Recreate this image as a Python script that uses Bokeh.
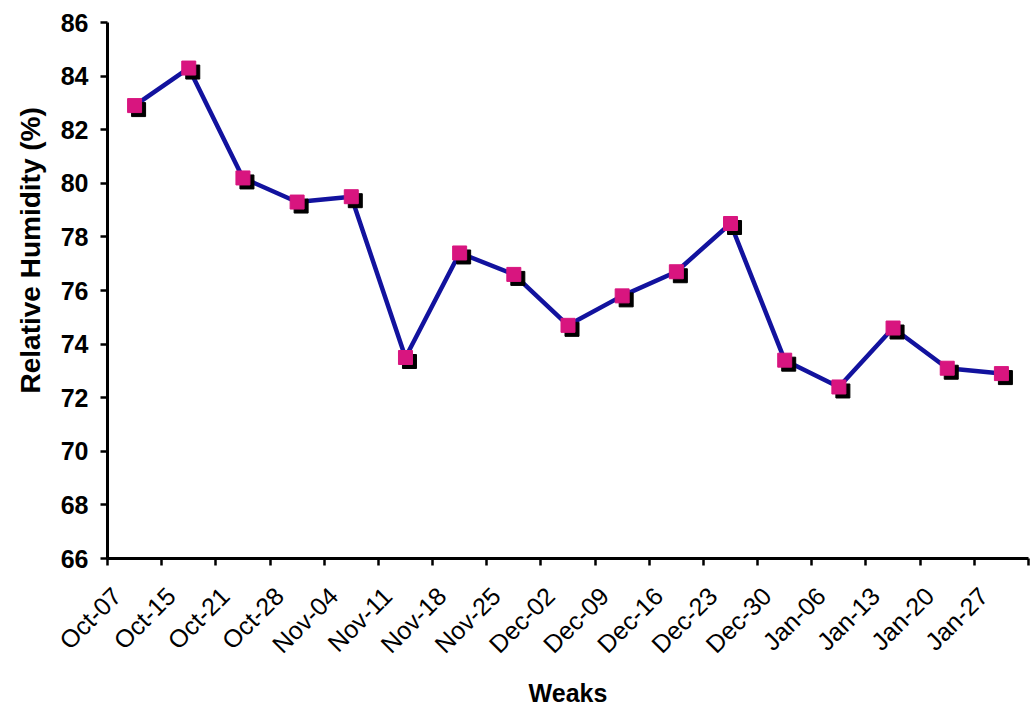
from math import pi

from bokeh.embed import file_html
from bokeh.models import ColumnDataSource, FixedTicker, Range1d, Title
from bokeh.plotting import figure
from bokeh.resources import INLINE
from bokeh.transform import dodge

# Weekly mean relative humidity
weeks = ["Oct-07", "Oct-15", "Oct-21", "Oct-28", "Nov-04", "Nov-11", "Nov-18",
         "Nov-25", "Dec-02", "Dec-09", "Dec-16", "Dec-23", "Dec-30", "Jan-06",
         "Jan-13", "Jan-20", "Jan-27"]
humidity = [82.9, 84.3, 80.2, 79.3, 79.5, 73.5, 77.4, 76.6, 74.7, 75.8, 76.7,
            78.5, 73.4, 72.4, 74.6, 73.1, 72.9]
y_ticks = [66, 68, 70, 72, 74, 76, 78, 80, 82, 84, 86]

FONT = "Liberation Sans"
LINE_BLUE = "#12129E"
MARKER_PINK = "#D8157F"

n = len(weeks)
centers = [i + 0.5 for i in range(n)]
# rotated labels hang from just right of each category's left boundary
label_pos = [i + 0.17 for i in range(n)]
source = ColumnDataSource(data=dict(x=centers, y=humidity))

p = figure(width=1032, height=710, output_backend="svg", toolbar_location=None,
           x_range=Range1d(0, n), y_range=Range1d(y_ticks[0], y_ticks[-1]),
           min_border_left=107, min_border_right=4, min_border_top=22,
           min_border_bottom=152)
p.outline_line_color = None
p.xgrid.visible = False
p.ygrid.visible = False
p.background_fill_color = "white"
p.border_fill_color = "white"

# series line, then drop-shadowed square markers
p.line("x", "y", source=source, line_color=LINE_BLUE, line_width=4.5)
frame_w, frame_h = 921, 536
p.scatter(x=dodge("x", 4 * n / frame_w, range=p.x_range),
          y=dodge("y", -4 * (y_ticks[-1] - y_ticks[0]) / frame_h, range=p.y_range),
          source=source, marker="square", size=14, fill_color="black",
          line_color="black")
p.scatter("x", "y", source=source, marker="square", size=14,
          fill_color=MARKER_PINK, line_color=MARKER_PINK)

# x axis: tick marks on category boundaries, slanted week labels
xa = p.xaxis[0]
xa.ticker = FixedTicker(ticks=label_pos, minor_ticks=list(range(n + 1)))
xa.major_label_overrides = {c: w for c, w in zip(label_pos, weeks)}
xa.major_label_orientation = pi / 4
xa.major_tick_in = 0
xa.major_tick_out = 0
xa.minor_tick_in = 0
xa.minor_tick_out = 7
xa.minor_tick_line_width = 2.5
xa.minor_tick_line_color = "black"
xa.axis_line_width = 3
xa.axis_line_color = "black"
xa.major_label_text_font = FONT
xa.major_label_text_font_size = "25px"
xa.major_label_text_color = "black"
xa.major_label_standoff = 26
xa.axis_label = "Weaks"
xa.axis_label_text_font = FONT
xa.axis_label_text_font_style = "bold"
xa.axis_label_text_font_size = "25px"
xa.axis_label_text_color = "black"
xa.axis_label_standoff = 8

ya = p.yaxis[0]
ya.ticker = FixedTicker(ticks=y_ticks)
ya.major_tick_in = 0
ya.major_tick_out = 7
ya.major_tick_line_width = 2.5
ya.minor_tick_out = 0
ya.minor_tick_in = 0
ya.axis_line_width = 3
ya.axis_line_color = "black"
ya.major_label_text_font = FONT
ya.major_label_text_font_style = "bold"
ya.major_label_text_font_size = "25px"
ya.major_label_text_color = "black"
ya.major_label_standoff = 12

p.add_layout(Title(text="Relative Humidity (%)", align="left", offset=165,
                   standoff=23, text_font=FONT, text_font_style="bold",
                   text_font_size="28px", text_color="black"), "left")

open("out.html", "w").write(file_html(p, INLINE))
